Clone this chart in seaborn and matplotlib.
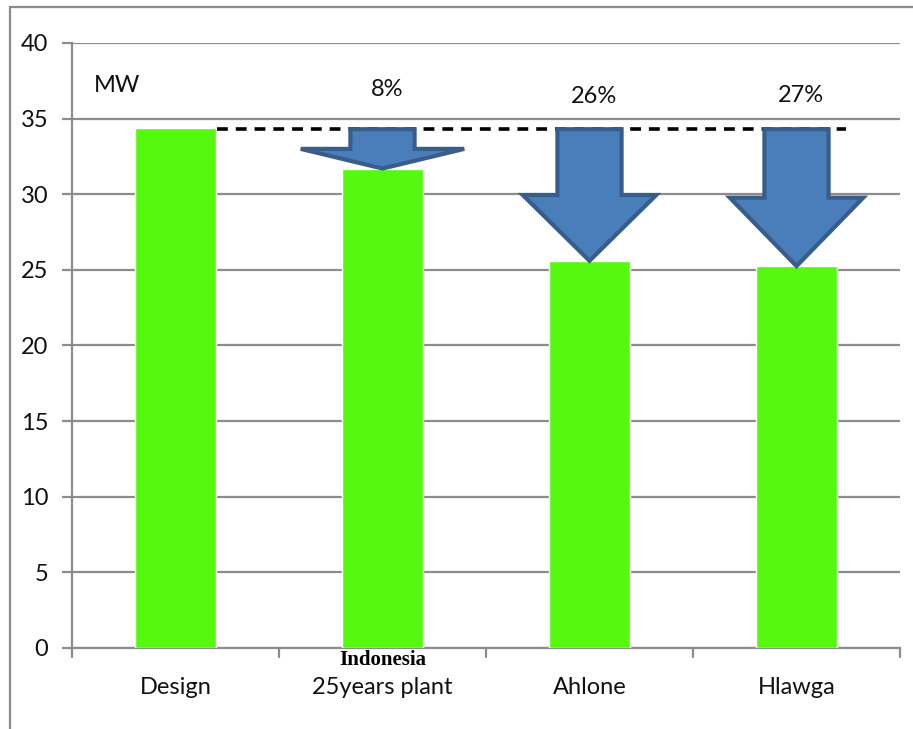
import matplotlib
matplotlib.use("Agg")
import matplotlib.pyplot as plt
import seaborn as sns
import pandas as pd
from matplotlib.patches import Polygon
from matplotlib.lines import Line2D

categories = ["Design", "25years plant", "Ahlone", "Hlawga"]
values = [34.4, 31.7, 25.6, 25.25]
reference_level = 34.3
drop_labels = ["", "8%", "26%", "27%"]
extra_label = "Indonesia"
unit_label = "MW"
yticks = [0, 5, 10, 15, 20, 25, 30, 35, 40]

df = pd.DataFrame({"cat": categories, "val": values})

sns.set_theme(style="white")
plt.rcParams["font.family"] = ["Lato", "DejaVu Sans"]

fig = plt.figure(figsize=(9.13, 7.29), dpi=100)
ax = fig.add_axes([72/913, 1-648/729, 828/913, (648-43)/729])

sns.barplot(data=df, x="cat", y="val", color="#56f80f", width=0.39,
            saturation=1, ax=ax, zorder=3)

ax.set_ylim(0, 40)
ax.set_xlim(-0.5, 3.5)
ax.set_yticks(yticks)
ax.set_yticklabels([str(t) for t in yticks], fontsize=17, color="#111111")
ax.set_xlabel("")
ax.set_ylabel("")
ax.set_xticks([0, 1, 2, 3])
ax.set_xticklabels(categories, fontsize=17, color="#111111")
ax.yaxis.grid(True, color="#8c8c8c", linewidth=1.6, zorder=0)
ax.set_axisbelow(True)
for s in ["top", "right"]:
    ax.spines[s].set_visible(False)
for s in ["left", "bottom"]:
    ax.spines[s].set_color("#8c8c8c")
    ax.spines[s].set_linewidth(1.6)
ax.tick_params(axis="y", length=7, width=1.6, color="#8c8c8c", pad=10, left=True)
ax.tick_params(axis="x", length=0, pad=21)
# boundary ticks on x axis
for b in [-0.5, 0.5, 1.5, 2.5, 3.5]:
    ax.add_line(Line2D([b, b], [0, -0.6], color="#8c8c8c", lw=1.6,
                       clip_on=False, zorder=4))

# dashed reference line
ax.plot([0.2, 3.24], [reference_level, reference_level], ls=(0, (3, 2.2)),
        color="black", lw=2.6, zorder=5)

# arrows
head_widths = [0, 0.79, 0.645, 0.645]
shaft_w = 0.31
for i, v in enumerate(values):
    if i == 0:
        continue
    top = reference_level
    length = top - v
    head_start = v + length * 0.5
    hw = head_widths[i] / 2
    sw = shaft_w / 2
    pts = [(i - sw, top), (i + sw, top), (i + sw, head_start),
           (i + hw, head_start), (i, v), (i - hw, head_start),
           (i - sw, head_start)]
    ax.add_patch(Polygon(pts, closed=True, facecolor="#4a7ebb",
                         edgecolor="#385d8a", lw=3, zorder=6,
                         joinstyle="miter"))

label_y = [0, 36.9, 36.45, 36.55]
for i, lab in enumerate(drop_labels):
    if lab:
        ax.text(i + 0.02, label_y[i], lab, ha="center", va="center",
                fontsize=17, color="#111111")

ax.text(-0.28, 37.2, unit_label, ha="center", va="center", fontsize=17,
        color="#111111")

ax.text(1, -0.78, extra_label, ha="center", va="center", fontsize=15,
        fontweight="bold", family=["Liberation Serif", "DejaVu Serif"],
        color="black", clip_on=False)

# outer frame lines
fig.add_artist(Line2D([10/913, 10/913], [0, 1-7/729], color="#8c8c8c",
                      lw=1.6, transform=fig.transFigure))
fig.add_artist(Line2D([10/913, 1], [1-7/729, 1-7/729], color="#8c8c8c",
                      lw=1.6, transform=fig.transFigure))

fig.savefig("out.png", dpi=100)
